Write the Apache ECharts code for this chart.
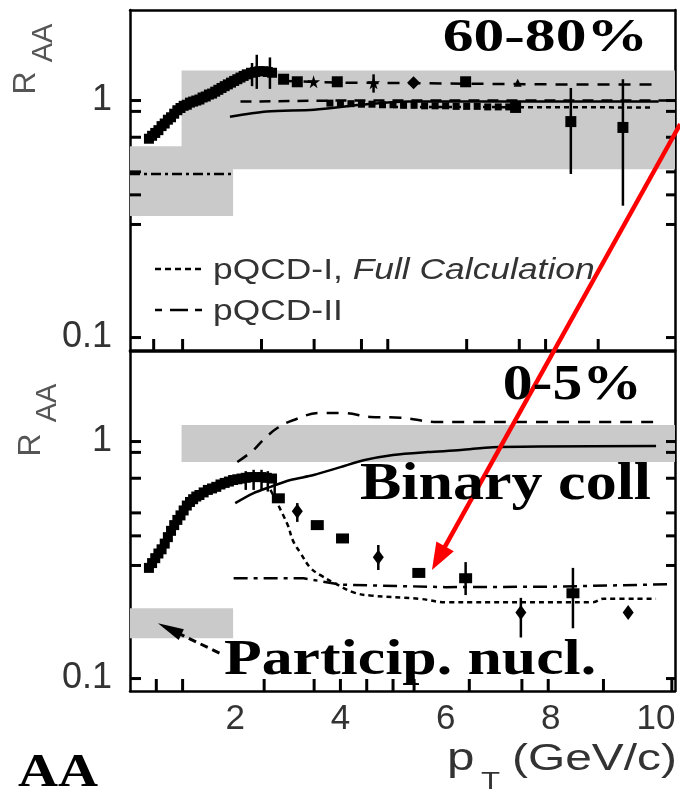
<!DOCTYPE html>
<html><head><meta charset="utf-8">
<script src="https://cdn.jsdelivr.net/npm/echarts@6/dist/echarts.min.js"></script>
<style>html,body{margin:0;padding:0;background:#fff}#c{width:680px;height:794px}</style>
</head><body><div id="c"></div>
<script>
// ---------- data (pT in GeV/c, R_AA) ----------
const xTickLabels = [2, 4, 6, 8, 10];
const yTickLabels = [0.1, 1];
const yTickMarks = [0.1, 0.3, 0.4, 0.5, 0.7, 0.9, 1];
const xTickMarksTop = [0.45, 1, 2.5, 3.5, 4.4, 4.9, 6.4, 7.4, 7.9, 8.9];
const xTickMarksBottom = [0.5, 1, 2.55, 3.5, 4, 4.5, 5, 5.4, 6.45, 7.45, 7.95, 9, 10.3];

// 60-80% panel
const topDense = [[0.36,0.69],[0.42,0.71],[0.48,0.73],[0.54,0.75],[0.6,0.78],[0.66,0.8],[0.72,0.83],[0.78,0.85],[0.84,0.88],[0.9,0.91],[0.96,0.93],[1.02,0.95],[1.08,0.96],[1.14,0.98],[1.2,0.99],[1.26,1.0],[1.32,1.01],[1.38,1.03],[1.44,1.04],[1.5,1.06],[1.56,1.07],[1.62,1.09],[1.68,1.11],[1.74,1.13],[1.8,1.15],[1.86,1.17],[1.92,1.19],[1.98,1.21],[2.04,1.23],[2.1,1.25],[2.16,1.27],[2.22,1.29],[2.3,1.31],[2.38,1.32],[2.46,1.33],[2.54,1.33],[2.62,1.32],[2.7,1.31]];
const topSmall = [[3.8,0.975],[4.0,0.97],[4.2,0.97],[4.4,0.965],[4.6,0.965],[4.8,0.96],[5.0,0.96],[5.2,0.955],[5.4,0.955],[5.6,0.95],[5.8,0.95],[6.0,0.95],[6.2,0.945],[6.4,0.945],[6.6,0.945],[6.8,0.94],[7.0,0.94],[7.2,0.94]];
const topSquares = [[2.92,1.23],[3.18,1.2],[3.94,1.2],[6.38,1.2],[7.33,0.935],[8.38,0.815],[9.37,0.77]];
const topStars = [[3.49,1.2],[4.63,1.19]];
const topDiamonds = [[5.39,1.19]];
const topTriangles = [[7.37,1.19]];
const topErrors = [[2.32,1.15,1.44],[2.41,1.12,1.56],[2.66,1.12,1.52],[4.63,1.08,1.29],[8.38,0.49,1.13],[9.37,0.36,1.23]];
const topSolid = [[1.9,0.855],[2.6,0.9],[3.5,0.915],[4.4,0.96],[5.3,0.99],[7,0.99],[10.05,0.99]];
const topDashHigh = [[2.9,1.21],[4,1.19],[6,1.18],[8,1.17],[9.95,1.17]];
const topDashOne = [[2.1,0.99],[4,1.0],[10.36,1.0]];
const topPQCD1 = [[5.0,0.94],[9.9,0.935]];
const topPartLine = [[0,0.49],[1.97,0.49]];
const topBands = [[0,1.96,0.326,0.641],[0.98,10.36,0.513,1.34]];

// 0-5% panel
const botDense = [[0.36,0.293],[0.42,0.307],[0.48,0.322],[0.54,0.337],[0.6,0.351],[0.66,0.371],[0.72,0.395],[0.78,0.42],[0.84,0.444],[0.9,0.467],[0.96,0.488],[1.02,0.512],[1.08,0.537],[1.14,0.556],[1.2,0.571],[1.26,0.586],[1.32,0.595],[1.4,0.61],[1.48,0.625],[1.56,0.634],[1.64,0.644],[1.72,0.659],[1.8,0.669],[1.88,0.678],[1.96,0.688],[2.04,0.693],[2.12,0.698],[2.2,0.703],[2.3,0.708],[2.4,0.708],[2.5,0.708],[2.6,0.703],[2.7,0.698]];
const botSquares = [[2.82,0.576],[3.56,0.444],[4.04,0.39],[5.49,0.279],[6.38,0.265],[8.42,0.229]];
const botDiamonds = [[3.18,0.508],[4.72,0.325],[7.43,0.19],[9.47,0.19]];
const botErrors = [[2.2,0.625,0.75],[2.35,0.625,0.76],[2.5,0.625,0.76],[2.62,0.615,0.75],[2.75,0.585,0.73],[3.18,0.458,0.55],[4.72,0.287,0.366],[6.38,0.225,0.31],[7.43,0.149,0.219],[8.42,0.163,0.293]];
const botDashed = [[2.04,0.82],[2.34,0.917],[2.53,1.015],[2.8,1.14],[3.1,1.23],[3.62,1.32],[4.06,1.32],[4.57,1.27],[5.14,1.26],[5.85,1.21],[8,1.21],[9.96,1.21]];
const botSolid = [[2.0,0.55],[2.34,0.605],[2.67,0.644],[3.05,0.688],[3.49,0.722],[4.0,0.78],[4.44,0.834],[5.0,0.878],[5.66,0.903],[6.29,0.92],[6.9,0.947],[10,0.957]];
const botPQCD1 = [[2.67,0.625],[2.99,0.449],[3.1,0.381],[3.24,0.339],[3.43,0.293],[3.62,0.273],[3.87,0.254],[4.25,0.231],[4.57,0.224],[5.5,0.217],[6,0.21],[8.8,0.21],[9.0,0.217],[10,0.217]];
const botPQCD2 = [[1.97,0.265],[3.3,0.265],[4,0.249],[6,0.243],[8,0.244],[10.3,0.25]];
const botBands = [[0.98,10.36,0.819,1.174],[0,1.96,0.148,0.198]];

// ---------- chart ----------
const XMIN = 0, XMAX = 10.36, YMIN = 0.0886, YMAX = 2.41;
const SANS = 'Liberation Sans', SERIF = 'Liberation Serif';
const chart = echarts.init(document.getElementById('c'), null, {renderer: 'canvas'});

function xAx(grid, pos, labels) {
  return {type: 'value', gridIndex: grid, position: pos, min: XMIN, max: XMAX, interval: 1,
    axisLine: {show: true, onZero: false, lineStyle: {color: '#000', width: 2.5}},
    axisTick: {show: false},
    axisLabel: {show: labels, margin: 11, color: '#333', fontSize: 35, fontFamily: SANS,
      formatter: v => (xTickLabels.indexOf(Math.round(v)) >= 0 && Math.abs(v - Math.round(v)) < 1e-9) ? String(Math.round(v)) : ''},
    splitLine: {show: false}};
}
function yAx(grid, pos, labels) {
  return {type: 'log', logBase: 10, gridIndex: grid, position: pos, min: YMIN, max: YMAX,
    axisLine: {show: true, onZero: false, lineStyle: {color: '#000', width: 2.5}},
    axisTick: {show: false},
    axisLabel: {show: labels, margin: 18, color: '#333', fontSize: 36, fontFamily: SANS,
      formatter: v => { for (const t of yTickLabels) { if (Math.abs(v - t) / t < 1e-6) return String(t); } return ''; }},
    splitLine: {show: false}, minorSplitLine: {show: false}};
}

function bandSeries(data, xi) {
  return {type: 'custom', xAxisIndex: xi, yAxisIndex: xi, data: data, z: 1, silent: true,
    encode: {x: [0, 1], y: [2, 3]},
    renderItem: (params, api) => {
      const a = api.coord([api.value(0), api.value(3)]);
      const b = api.coord([api.value(1), api.value(2)]);
      return {type: 'rect', shape: {x: a[0], y: a[1], width: b[0] - a[0], height: b[1] - a[1]}, style: {fill: '#cacaca'}};
    }};
}
function errSeries(data, xi) {
  return {type: 'custom', xAxisIndex: xi, yAxisIndex: xi, data: data, z: 4, silent: true,
    encode: {x: 0, y: [1, 2]},
    renderItem: (params, api) => {
      const a = api.coord([api.value(0), api.value(1)]);
      const b = api.coord([api.value(0), api.value(2)]);
      return {type: 'line', shape: {x1: a[0], y1: a[1], x2: b[0], y2: b[1]}, style: {stroke: '#000', lineWidth: 2.5}};
    }};
}
function lineSeries(name, data, xi, type, width, smooth) {
  return {type: 'line', name: name, xAxisIndex: xi, yAxisIndex: xi, data: data, symbol: 'none', smooth: smooth || false,
    z: 3, silent: true, lineStyle: {color: '#000', width: width, type: type}};
}
function scatterSeries(name, data, xi, symbol, size) {
  return {type: 'scatter', name: name, xAxisIndex: xi, yAxisIndex: xi, data: data, symbol: symbol, symbolSize: size,
    z: 5, silent: true, itemStyle: {color: '#000', opacity: 1}};
}
const STAR = 'path://M50,0 L61,35 L98,35 L68,57 L79,91 L50,70 L21,91 L32,57 L2,35 L39,35 Z';

const option = {
  animation: false,
  backgroundColor: '#fff',
  grid: [
    {left: 130, top: 10, width: 545, height: 340},
    {left: 130, top: 351, width: 545, height: 340}
  ],
  xAxis: [xAx(0, 'bottom', false), xAx(0, 'top', false), xAx(1, 'bottom', true), xAx(1, 'top', false)],
  yAxis: [yAx(0, 'left', true), yAx(0, 'right', false), yAx(1, 'left', true), yAx(1, 'right', false)],
  series: [
    bandSeries(topBands, 0),
    bandSeries(botBands, 2),
    lineSeries('topSolid', topSolid, 0, 'solid', 2.5, 0.3),
    lineSeries('topDashHigh', topDashHigh, 0, [12, 9], 2.5),
    lineSeries('topDashOne', topDashOne, 0, [11, 8], 2.5),
    lineSeries('pQCD-I, Full Calculation', topPQCD1, 0, [5, 4], 2.5),
    lineSeries('topPart', topPartLine, 0, [10, 4, 3, 4], 2.5),
    errSeries(topErrors, 0),
    scatterSeries('top dense', topDense, 0, 'rect', 10),
    scatterSeries('top small', topSmall, 0, 'rect', 7),
    scatterSeries('top squares', topSquares, 0, 'rect', 11),
    scatterSeries('top stars', topStars, 0, STAR, 13),
    scatterSeries('top diamonds', topDiamonds, 0, 'diamond', 13),
    scatterSeries('top triangles', topTriangles, 0, 'triangle', 8),
    lineSeries('botDashed', botDashed, 2, [12, 9], 2.5, 0.4),
    lineSeries('botSolid', botSolid, 2, 'solid', 2.5, 0.3),
    lineSeries('pQCD-I bottom', botPQCD1, 2, [5, 4], 2.5, 0.4),
    lineSeries('pQCD-II', botPQCD2, 2, [14, 6, 4, 6], 2.5),
    errSeries(botErrors, 2),
    scatterSeries('bot dense', botDense, 2, 'rect', 10),
    scatterSeries('bot squares', botSquares, 2, 'rect', [13, 10]),
    scatterSeries('bot diamonds', botDiamonds, 2, 'diamond', [11, 15])
  ]
};
chart.setOption(option);

// ---------- annotations ----------
const P0 = pt => chart.convertToPixel({xAxisIndex: 0, yAxisIndex: 0}, pt);
const P1 = pt => chart.convertToPixel({xAxisIndex: 2, yAxisIndex: 2}, pt);

function arrow(tail, tip, headLen, headHalf, color, width, dash) {
  const dx = tip[0] - tail[0], dy = tip[1] - tail[1];
  const L = Math.sqrt(dx * dx + dy * dy), ux = dx / L, uy = dy / L;
  const bx = tip[0] - ux * headLen, by = tip[1] - uy * headLen;
  const nx = -uy, ny = ux;
  return [
    {type: 'line', z: 50, shape: {x1: tail[0], y1: tail[1], x2: bx + ux * 2, y2: by + uy * 2},
      style: {stroke: color, lineWidth: width, lineDash: dash || null}},
    {type: 'polygon', z: 50, shape: {points: [[tip[0], tip[1]], [bx + nx * headHalf, by + ny * headHalf], [bx - nx * headHalf, by - ny * headHalf]]},
      style: {fill: color}}
  ];
}
function tickRect(p, dx, dy) {
  // filled rectangle tick, 3px thick, extending (dx, dy) from the axis point
  const w = 3;
  const x = dx !== 0 ? Math.min(p[0], p[0] + dx) : p[0] - w / 2;
  const y = dy !== 0 ? Math.min(p[1], p[1] + dy) : p[1] - w / 2;
  return {type: 'rect', z: 40, shape: {x: x, y: y, width: dx !== 0 ? Math.abs(dx) : w, height: dy !== 0 ? Math.abs(dy) : w},
    style: {fill: '#000'}};
}
function txt(text, x, y, size, opts) {
  opts = opts || {};
  return {type: 'text', x: x, y: y, z: 60, rotation: opts.rot || 0, scaleX: opts.sx || 1,
    style: {text: text, fill: opts.color || '#000', fontSize: size, fontFamily: opts.family || SERIF,
      fontWeight: opts.weight || 'normal', fontStyle: opts.style || 'normal',
      textAlign: opts.align || 'left', textVerticalAlign: 'middle', rich: opts.rich}};
}

const gfx = [];
// inward tick marks placed through the axis scales
xTickMarksTop.forEach(v => gfx.push(tickRect(P0([v, YMIN]), 0, -11)));
xTickMarksBottom.forEach(v => gfx.push(tickRect(P1([v, YMIN]), 0, -12)));
yTickMarks.forEach(v => {
  gfx.push(tickRect(P0([XMIN, v]), 11, 0));
  gfx.push(tickRect(P0([XMAX, v]), -9, 0));
  gfx.push(tickRect(P1([XMIN, v]), 11, 0));
  gfx.push(tickRect(P1([XMAX, v]), -9, 0));
});
// panel titles & labels
gfx.push(txt('60-80%', 648, 39, 47, {weight: 'bold', align: 'right', sx: 1.31}));
gfx.push(txt('0-5%', 642, 386, 51, {weight: 'bold', align: 'right', sx: 1.17}));
gfx.push(txt('Binary coll', 360, 485, 53, {weight: 'bold', sx: 1.17}));
gfx.push(txt('Particip. nucl.', 224, 661, 50, {weight: 'bold', sx: 1.235}));
gfx.push(txt('AA', 18, 774, 47, {weight: 'bold', sx: 1.18}));
// axis titles
gfx.push(txt('p', 447, 760, 38, {family: SANS, color: '#333', sx: 1.3}));
gfx.push(txt('T', 481, 782, 24, {family: SANS, color: '#333', sx: 1.3}));
gfx.push(txt('(GeV/c)', 512, 760, 36, {family: SANS, color: '#333', sx: 1.33}));
gfx.push(txt('R', 26, 83, 32, {family: SANS, color: '#555', rot: Math.PI / 2, align: 'center'}));
gfx.push(txt('AA', 44, 43, 29, {family: SANS, color: '#555', rot: Math.PI / 2, align: 'center'}));
gfx.push(txt('R', 31, 445, 32, {family: SANS, color: '#555', rot: Math.PI / 2, align: 'center'}));
gfx.push(txt('AA', 48, 403, 29, {family: SANS, color: '#555', rot: Math.PI / 2, align: 'center'}));
// legend
gfx.push({type: 'line', z: 60, shape: {x1: 155, y1: 269, x2: 202, y2: 269}, style: {stroke: '#000', lineWidth: 2.5, lineDash: [6, 4]}});
gfx.push({type: 'line', z: 60, shape: {x1: 155, y1: 310, x2: 202, y2: 310}, style: {stroke: '#000', lineWidth: 2.5, lineDash: [7, 8, 18, 7, 7, 100]}});
gfx.push(txt('{n|pQCD-I,} {i|Full Calculation}', 213, 271, 30, {family: SANS, color: '#333', sx: 1.18,
  rich: {n: {fontSize: 30, fontFamily: SANS, fill: '#333', color: '#333'}, i: {fontSize: 30, fontFamily: SANS, fontStyle: 'italic', fill: '#333', color: '#333'}}}));
gfx.push(txt('pQCD-II', 213, 312, 30, {family: SANS, color: '#333', sx: 1.18}));
// arrows
arrow(P0([10.46, 0.796]), P1([5.74, 0.287]), 27, 10, '#ff0000', 4.5).forEach(e => gfx.push(e));
arrow(P1([1.70, 0.128]), P1([0.53, 0.171]), 26, 6, '#000', 3, [8, 5]).forEach(e => gfx.push(e));

chart.setOption({graphic: {elements: gfx}});
</script></body></html>
